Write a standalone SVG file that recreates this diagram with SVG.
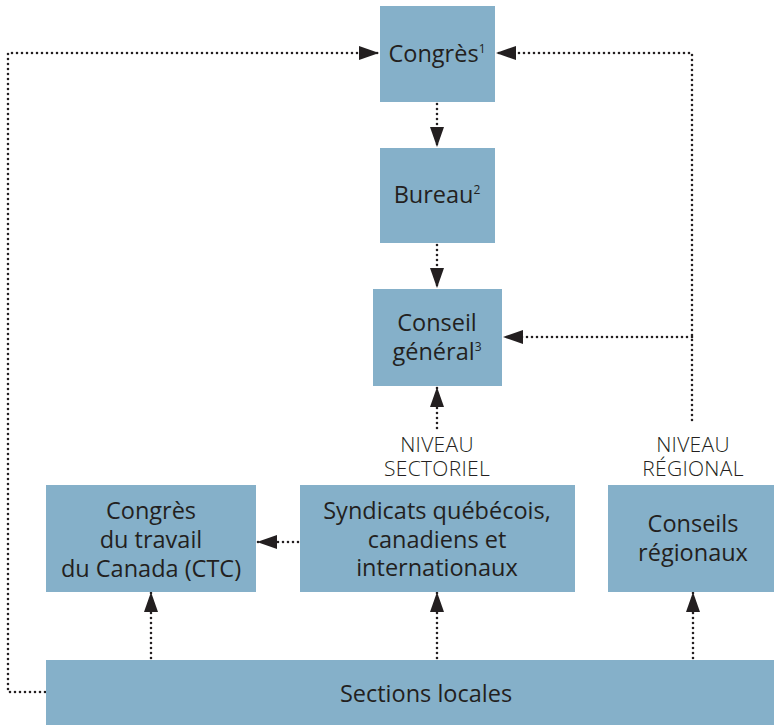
<svg xmlns="http://www.w3.org/2000/svg" width="774" height="725" viewBox="0 0 774 725">
<style>
.box{fill:#85b0c9}
.t{font-family:"Open Sans","Liberation Sans",sans-serif;font-size:23.5px;fill:#231f20;text-anchor:middle}
.lbl{font-family:"Open Sans","Liberation Sans",sans-serif;font-size:21px;font-weight:300;fill:#231f20;text-anchor:middle;letter-spacing:0.3px}
.sup{font-size:12px}
.c{fill:none;stroke:#231f20;stroke-width:2.6;stroke-linecap:round;stroke-dasharray:0 5}
</style>
<defs>
<marker id="ah" markerUnits="userSpaceOnUse" markerWidth="20" markerHeight="14" refX="20" refY="7" orient="auto">
<path d="M0,0 L20,7 L0,14 Z" fill="#231f20"/>
</marker>
</defs>
<g id="connectors">
<path class="c" d="M45,692 H8 V53 H379" marker-end="url(#ah)"/>
<path class="c" d="M692,420 V53 H496" marker-end="url(#ah)"/>
<path class="c" d="M692,337 H503" marker-end="url(#ah)"/>
<path class="c" d="M437,104 V147" marker-end="url(#ah)"/>
<path class="c" d="M437,245 V288" marker-end="url(#ah)"/>
<path class="c" d="M437,428 V387" marker-end="url(#ah)"/>
<path class="c" d="M298,542 H257" marker-end="url(#ah)"/>
<path class="c" d="M151,658 V592" marker-end="url(#ah)"/>
<path class="c" d="M437,658 V592" marker-end="url(#ah)"/>
<path class="c" d="M693,658 V592" marker-end="url(#ah)"/>
</g>
<g id="congres">
<rect class="box" x="380" y="6" width="115" height="96"/>
<text class="t" x="437" y="62">Congrès<tspan class="sup" dy="-9">1</tspan></text>
</g>
<g id="bureau">
<rect class="box" x="380" y="148" width="115" height="95"/>
<text class="t" x="437" y="203">Bureau<tspan class="sup" dy="-9">2</tspan></text>
</g>
<g id="conseil-general">
<rect class="box" x="373" y="289" width="129" height="97"/>
<text class="t" x="437" y="331">Conseil</text>
<text class="t" x="437" y="360">général<tspan class="sup" dy="-9">3</tspan></text>
</g>
<g id="niveau-sectoriel">
<text class="lbl" x="437" y="452">NIVEAU</text>
<text class="lbl" x="437" y="476">SECTORIEL</text>
</g>
<g id="niveau-regional">
<text class="lbl" x="693" y="452">NIVEAU</text>
<text class="lbl" x="693" y="476">RÉGIONAL</text>
</g>
<g id="ctc">
<rect class="box" x="46" y="485" width="210" height="107"/>
<text class="t" x="151" y="519">Congrès</text>
<text class="t" x="151" y="548">du travail</text>
<text class="t" x="151" y="577">du Canada (CTC)</text>
</g>
<g id="syndicats">
<rect class="box" x="300" y="485" width="275" height="107"/>
<text class="t" x="437" y="519">Syndicats québécois,</text>
<text class="t" x="437" y="548">canadiens et</text>
<text class="t" x="437" y="576">internationaux</text>
</g>
<g id="conseils-regionaux">
<rect class="box" x="608" y="485" width="166" height="107"/>
<text class="t" x="693" y="532">Conseils</text>
<text class="t" x="693" y="561">régionaux</text>
</g>
<g id="sections-locales">
<rect class="box" x="46" y="660" width="728" height="65"/>
<text class="t" x="426" y="702">Sections locales</text>
</g>
</svg>
